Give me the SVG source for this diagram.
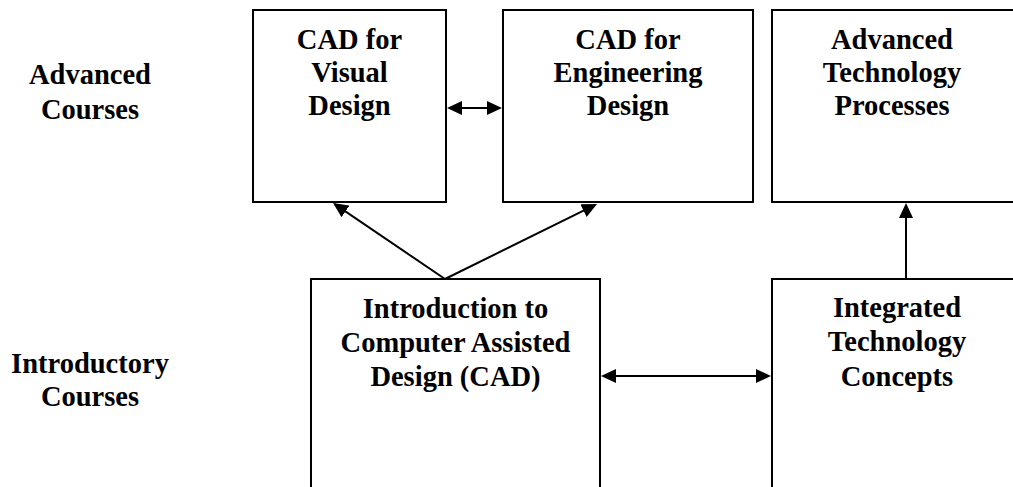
<svg xmlns="http://www.w3.org/2000/svg" width="1013" height="487" viewBox="0 0 1013 487">
  <style>
    .box { fill: #fff; stroke: #000; stroke-width: 2; }
    .lbl { font-family: "Liberation Serif", "Times New Roman", serif; font-weight: bold; font-size: 28.5px; fill: #000; text-anchor: middle; }
    .conn { stroke: #000; stroke-width: 2; fill: none; }
  </style>
  <defs>
    <marker id="head" markerUnits="userSpaceOnUse" markerWidth="15" markerHeight="15" refX="13" refY="7.5" orient="auto-start-reverse" viewBox="0 0 15 15">
      <path d="M0,0.5 L15,7.5 L0,14.5 Z" fill="#000"/>
    </marker>
  </defs>
  <rect width="1013" height="487" fill="#fff"/>

  <!-- row labels -->
  <g id="row-advanced">
    <text class="lbl" x="90" y="84">Advanced</text>
    <text class="lbl" x="90" y="119">Courses</text>
  </g>
  <g id="row-introductory">
    <text class="lbl" x="90" y="373">Introductory</text>
    <text class="lbl" x="90" y="406">Courses</text>
  </g>

  <!-- course boxes -->
  <g id="cad-visual">
    <rect class="box" x="253" y="10" width="193" height="192"/>
    <text class="lbl" x="349.5" y="49">CAD for</text>
    <text class="lbl" x="349.5" y="82">Visual</text>
    <text class="lbl" x="349.5" y="115">Design</text>
  </g>
  <g id="cad-engineering">
    <rect class="box" x="503" y="10" width="250" height="192"/>
    <text class="lbl" x="628" y="49">CAD for</text>
    <text class="lbl" x="628" y="82">Engineering</text>
    <text class="lbl" x="628" y="115">Design</text>
  </g>
  <g id="adv-tech">
    <rect class="box" x="772" y="10" width="262" height="192"/>
    <text class="lbl" x="892" y="49">Advanced</text>
    <text class="lbl" x="892" y="82">Technology</text>
    <text class="lbl" x="892" y="115">Processes</text>
  </g>
  <g id="intro-cad">
    <rect class="box" x="311" y="279" width="289" height="230"/>
    <text class="lbl" x="455.5" y="318">Introduction to</text>
    <text class="lbl" x="455.5" y="352">Computer Assisted</text>
    <text class="lbl" x="455.5" y="386">Design (CAD)</text>
  </g>
  <g id="integrated-tech">
    <rect class="box" x="772" y="279" width="262" height="230"/>
    <text class="lbl" x="897" y="317">Integrated</text>
    <text class="lbl" x="897" y="351">Technology</text>
    <text class="lbl" x="897" y="386">Concepts</text>
  </g>

  <!-- connectors -->
  <g id="connectors">
    <line class="conn" x1="449" y1="108" x2="500" y2="108" marker-start="url(#head)" marker-end="url(#head)"/>
    <line class="conn" x1="603" y1="376" x2="769" y2="376" marker-start="url(#head)" marker-end="url(#head)"/>
    <line class="conn" x1="906" y1="279" x2="906" y2="205" marker-end="url(#head)"/>
    <line class="conn" x1="445" y1="279" x2="334.7" y2="204.1" marker-end="url(#head)"/>
    <line class="conn" x1="445" y1="279" x2="595.2" y2="204.9" marker-end="url(#head)"/>
  </g>
</svg>
